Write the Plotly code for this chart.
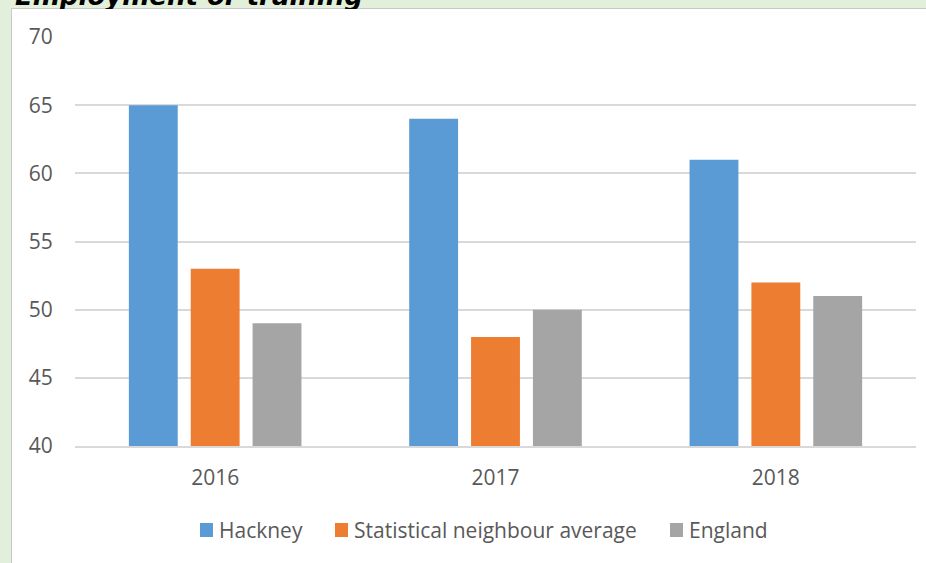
import plotly.graph_objects as go

years = ["2016", "2017", "2018"]
hackney = [65, 64, 61]
stat_neighbour = [53, 48, 52]
england = [49, 50, 51]
axis_floor = 40

series = [
    ("Hackney", hackney, "#5B9BD5"),
    ("Statistical neighbour average", stat_neighbour, "#ED7D31"),
    ("England", england, "#A5A5A5"),
]

W, H = 926, 563
ml, mr, mt, mb = 75, 10, 37, 117
pw = W - ml - mr
ph = H - mt - mb


def px_x(x):
    return (x - ml) / pw


def px_y(y):
    return (H - mb - y) / ph


TEXT = "#595959"
FONT = "Open Sans"

fig = go.Figure()
for name, vals, color in series:
    fig.add_trace(go.Bar(
        x=years, y=[v - axis_floor for v in vals], base=axis_floor,
        name=name, marker_color=color, marker_line_width=0,
        showlegend=False, hoverinfo="skip",
    ))

# legend drawn as swatches + labels below the axis
legend_x = [200, 335, 670]
shapes = [dict(
    type="rect", xref="paper", yref="paper",
    x0=px_x(11.5), x1=px_x(935), y0=px_y(575), y1=px_y(8.5),
    fillcolor="white", line=dict(color="#C8C8C8", width=1),
    layer="below",
)]
annotations = [
    dict(
        text="<b><i>Employment or training</i></b>",
        xref="paper", yref="paper", x=px_x(13), y=1,
        xanchor="left", yanchor="bottom", yshift=mt - 13,
        showarrow=False,
        font=dict(size=26, color="#000000", family="DejaVu Sans"),
    ),
    # panel edge over the title's descenders
    dict(
        text=" ", xref="paper", yref="paper", x=px_x(12.5), y=px_y(9),
        xanchor="left", yanchor="top", showarrow=False,
        width=420, height=12, bgcolor="white", borderpad=0, borderwidth=0,
    ),
]
for (name, _, color), lx in zip(series, legend_x):
    shapes.append(dict(
        type="rect", xref="paper", yref="paper",
        x0=px_x(lx), x1=px_x(lx + 13), y0=px_y(537), y1=px_y(523),
        fillcolor=color, line=dict(width=0), layer="above",
    ))
    annotations.append(dict(
        text=name, xref="paper", yref="paper",
        x=px_x(lx + 17), y=px_y(530), xanchor="left", yanchor="middle",
        showarrow=False, font=dict(size=21, color=TEXT, family=FONT),
    ))

fig.update_layout(
    width=W, height=H,
    margin=dict(l=ml, r=mr, t=mt, b=mb),
    paper_bgcolor="#E2EFDA",
    plot_bgcolor="rgba(0,0,0,0)",
    barmode="group",
    bargap=0.338,
    bargroupgap=0.21,
    font=dict(family=FONT, color=TEXT, size=21),
    showlegend=False,
    xaxis=dict(
        showgrid=False, showline=True, linecolor="#D9D9D9", linewidth=2,
        ticks="outside", ticklen=12, tickcolor="rgba(0,0,0,0)",
        tickfont=dict(size=21, color=TEXT),
    ),
    yaxis=dict(
        range=[40, 70], dtick=5, showgrid=True, gridcolor="#D9D9D9",
        gridwidth=2, zeroline=False, showline=False,
        ticks="outside", ticklen=17, tickcolor="rgba(0,0,0,0)",
        tickfont=dict(size=21, color=TEXT),
    ),
    shapes=shapes,
    annotations=annotations,
)

fig.write_html("out.html")
